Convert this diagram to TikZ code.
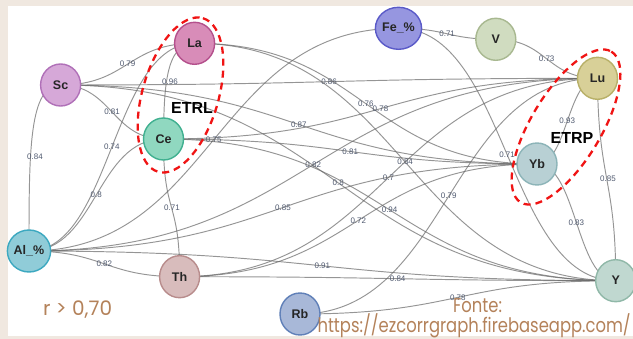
\documentclass[tikz,border=0pt]{standalone}
\usepackage{fontspec}
\setmainfont{Liberation Sans}
\newfontfamily\gothic{Poppins}
\usetikzlibrary{calc,shapes.geometric}
\pgfdeclarelayer{back}
\pgfdeclarelayer{edges}
\pgfsetlayers{back,edges,main}
\definecolor{beige}{RGB}{240,232,224}
\definecolor{brownt}{RGB}{180,130,90}
\definecolor{labc}{RGB}{80,90,112}
\definecolor{edgec}{RGB}{105,105,105}
\definecolor{etr}{RGB}{240,20,20}
\definecolor{fSc}{RGB}{214,168,216}\definecolor{dSc}{RGB}{176,112,184}
\definecolor{fLa}{RGB}{216,140,184}\definecolor{dLa}{RGB}{180,80,140}
\definecolor{fCe}{RGB}{144,216,192}\definecolor{dCe}{RGB}{64,176,144}
\definecolor{fAl}{RGB}{144,204,216}\definecolor{dAl}{RGB}{60,168,192}
\definecolor{fTh}{RGB}{216,188,188}\definecolor{dTh}{RGB}{184,140,140}
\definecolor{fFe}{RGB}{150,150,224}\definecolor{dFe}{RGB}{90,90,200}
\definecolor{fV}{RGB}{208,220,192}\definecolor{dV}{RGB}{168,184,144}
\definecolor{fLu}{RGB}{216,208,152}\definecolor{dLu}{RGB}{184,176,104}
\definecolor{fYb}{RGB}{184,208,212}\definecolor{dYb}{RGB}{140,180,184}
\definecolor{fY}{RGB}{192,216,208}\definecolor{dY}{RGB}{144,184,168}
\definecolor{fRb}{RGB}{168,184,216}\definecolor{dRb}{RGB}{96,128,184}
\tikzset{
  nd/.style={ellipse, minimum width=40pt, minimum height=42pt, inner sep=0pt, line width=1.4pt, font=\fontsize{12.5}{12.5}\selectfont\bfseries, text=black!85},
  edge/.style={draw=edgec, draw opacity=0.7, line width=0.95pt},
  elab/.style={font=\fontsize{8}{8}\selectfont, text=labc, inner sep=0pt},
  etrbox/.style={draw=etr, line width=2.3pt, dash pattern=on 7pt off 5pt},
  etrtext/.style={font=\fontsize{16}{16}\selectfont\bfseries, text=black},
  src/.style={font=\gothic\fontsize{20}{20}\selectfont, text=brownt, inner sep=0pt}
}
\newcommand\hl[3]{\draw[edge] let \p1=(#1.center), \p2=(#2.center) in (\p1) .. controls ({(\x1+\x2)/2},\y1) and ({(\x1+\x2)/2},\y2) .. (\p2) node[elab,pos=0.5]{#3};}
\begin{document}
\begin{tikzpicture}[x=1pt,y=-1pt]
\useasboundingbox (0,0) rectangle (633,339);
\begin{pgfonlayer}{back}
\fill[beige] (0,0) rectangle (633,339);
\fill[white] (8,6) rectangle (633,336);
\end{pgfonlayer}
% nodes
\node[nd, fill=fSc, draw=dSc] (Sc) at (60.6,85) {Sc};
\node[nd, fill=fLa, draw=dLa] (La) at (194.6,43.3) {La};
\node[nd, fill=fCe, draw=dCe] (Ce) at (163.5,139) {Ce};
\node[nd, fill=fAl, draw=dAl] (Al) at (29,251) {Al\_\%};
\node[nd, fill=fTh, draw=dTh] (Th) at (179.6,276.7) {Th};
\node[nd, fill=fFe, draw=dFe] (Fe) at (398.5,28.3) {Fe\_\%};
\node[nd, fill=fV, draw=dV] (V) at (495.8,39.3) {V};
\node[nd, fill=fLu, draw=dLu] (Lu) at (597.5,78.3) {Lu};
\node[nd, fill=fYb, draw=dYb] (Yb) at (537,164) {Yb};
\node[nd, fill=fY, draw=dY] (Y) at (615.7,280.7) {Y};
\node[nd, fill=fRb, draw=dRb] (Rb) at (300,314) {Rb};
% edges
\begin{pgfonlayer}{edges}
\hl{Sc}{La}{0.79}
\hl{Sc}{Ce}{0.81}
\hl{Al}{La}{0.74}
\hl{Sc}{Lu}{0.86}
\hl{La}{Yb}{0.76}
\hl{Ce}{Lu}{0.78}
\hl{Sc}{Yb}{0.87}
\hl{Al}{Fe}{0.75}
\hl{Ce}{Yb}{0.81}
\hl{Al}{Lu}{0.82}
\hl{La}{Y}{0.84}
\hl{Sc}{Y}{0.8}
\hl{Th}{Lu}{0.7}
\hl{Al}{Yb}{0.85}
\hl{Ce}{Y}{0.94}
\hl{Th}{Yb}{0.72}
\hl{Al}{Y}{0.91}
\hl{Th}{Y}{0.84}
\hl{Rb}{Lu}{0.79}
\hl{Rb}{Y}{0.78}
\hl{Yb}{Y}{0.83}
\hl{Lu}{Yb}{0.93}
\hl{V}{Lu}{0.73}
\hl{Fe}{V}{0.71}
\hl{Fe}{Y}{0.71}
\hl{Al}{Ce}{0.8}
\hl{Al}{Th}{0.82}
\draw[edge] (Sc.center) .. controls (29,85) and (29,150) .. (Al.center);
\node[elab] at (35,157) {0.84};
\draw[edge] (La.center) .. controls (165,43) and (164,90) .. (Ce.center);
\node[elab] at (170,82) {0.96};
\draw[edge] (Ce.center) .. controls (163,215) and (180,200) .. (Th.center);
\node[elab] at (172,208) {0.71};
\draw[edge] (Lu.center) .. controls (598,180) and (616,180) .. (Y.center);
\node[elab] at (608,179) {0.85};
\end{pgfonlayer}
% groups
\draw[etrbox] (180.5,95) ellipse[x radius=80, y radius=38, rotate=73.7];
\draw[etrbox] (566,127) ellipse[x radius=88, y radius=35, rotate=59];
\node[etrtext] (etrl) at (192,108) {ETRL};
\node[etrtext] (etrp) at (572,138) {ETRP};
% texts
\node[src, anchor=west] (r) at (43,310) {r > 0,70};
\node[src, anchor=base west] (fonte) at (453,313) {\scalebox{0.82}[1]{Fonte:}};
\node[src, anchor=base east] (url) at (631,333) {\scalebox{0.82}[1]{https://ezcorrgraph.firebaseapp.com/}};
\end{tikzpicture}
\end{document}
